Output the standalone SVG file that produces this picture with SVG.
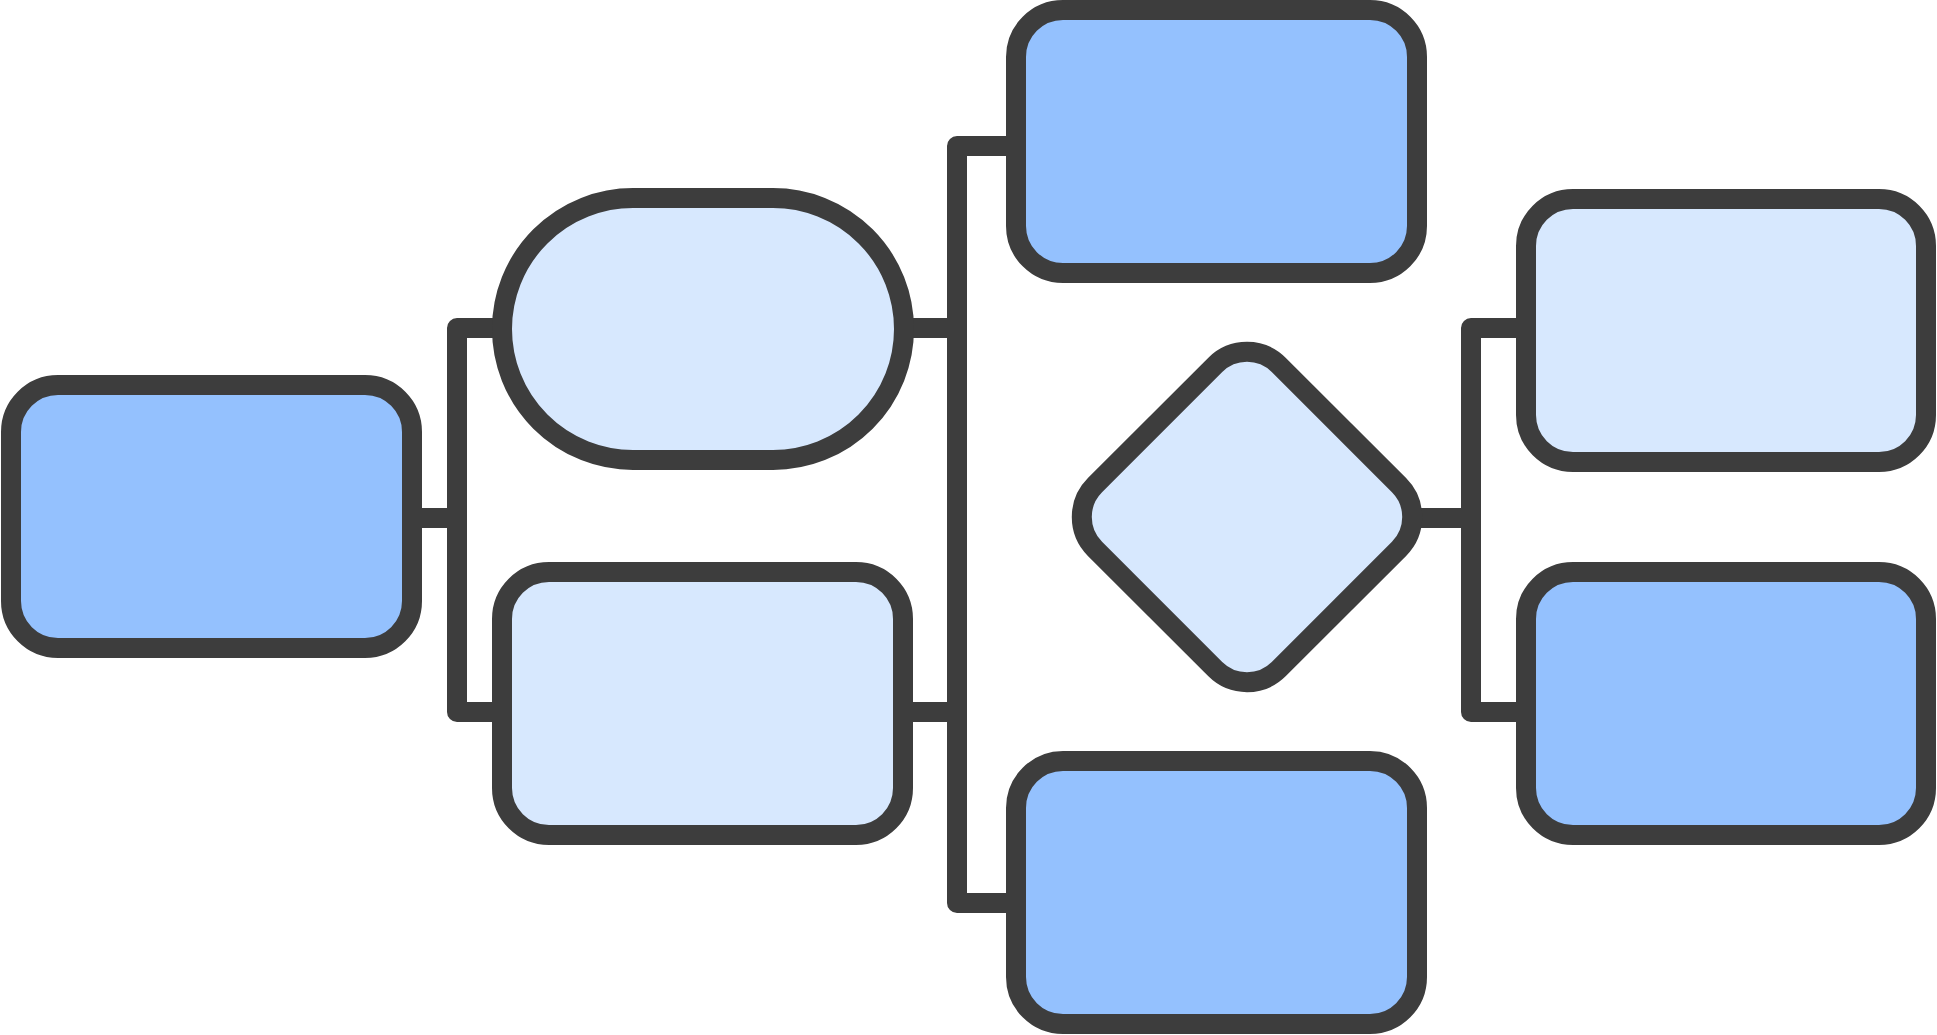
<svg xmlns="http://www.w3.org/2000/svg" width="1937" height="1035" viewBox="0 0 1937 1035">
  <style>
    .node { stroke: #3d3d3d; stroke-width: 20; }
    .dark { fill: #94c1fe; }
    .light { fill: #d7e8fe; }
    .link { fill: none; stroke: #3d3d3d; stroke-width: 20; stroke-linejoin: round; stroke-linecap: butt; }
  </style>
  <rect width="1937" height="1035" fill="#ffffff"/>

  <!-- orthogonal connectors -->
  <g id="connectors">
    <path class="link" d="M412 518 H457"/>
    <path class="link" d="M502 328 H457 V712 H502"/>
    <path class="link" d="M904 328 H957"/>
    <path class="link" d="M903 712 H957"/>
    <path class="link" d="M1016 146 H957 V903 H1016"/>
    <path class="link" d="M1415 518 H1471"/>
    <path class="link" d="M1526 328 H1471 V712 H1526"/>
  </g>

  <g id="node-root">
    <rect class="node dark" x="11" y="385" width="401" height="263" rx="47"/>
  </g>
  <g id="node-stadium">
    <rect class="node light" x="502" y="198" width="402" height="262" rx="131"/>
  </g>
  <g id="node-lower">
    <rect class="node light" x="502" y="572" width="401" height="263" rx="47"/>
  </g>
  <g id="node-top">
    <rect class="node dark" x="1016" y="10" width="401" height="263" rx="47"/>
  </g>
  <g id="node-decision">
    <rect class="node light" x="-130" y="-130" width="260" height="260" rx="45" transform="translate(1247 517) rotate(45)"/>
  </g>
  <g id="node-bottom">
    <rect class="node dark" x="1016" y="761" width="401" height="263" rx="47"/>
  </g>
  <g id="node-right-top">
    <rect class="node light" x="1526" y="199" width="400" height="263" rx="47"/>
  </g>
  <g id="node-right-bottom">
    <rect class="node dark" x="1526" y="572" width="400" height="263" rx="47"/>
  </g>
</svg>
